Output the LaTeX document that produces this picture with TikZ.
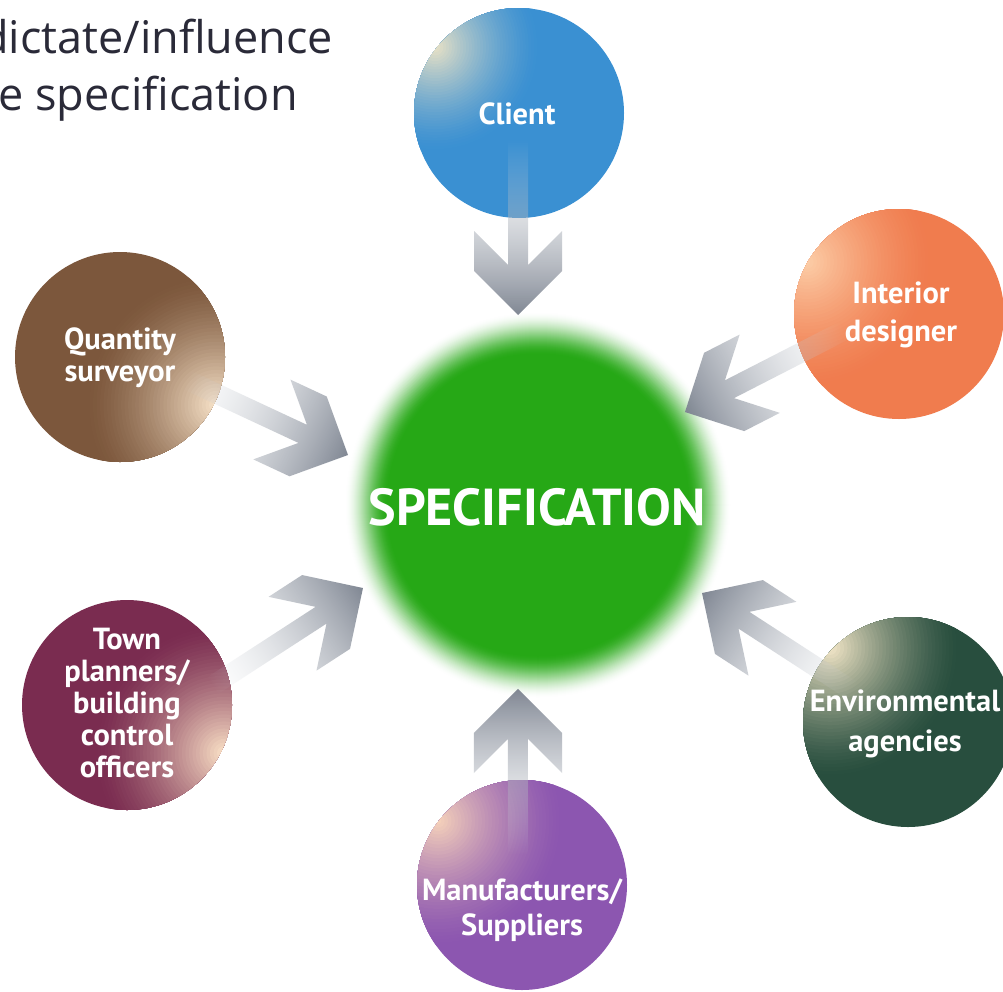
\documentclass[tikz,border=0pt]{standalone}
\usepackage{fontspec}
\usetikzlibrary{calc,fadings}
\newfontfamily\labelfont{PT Sans}
\newfontfamily\titlefont{Open Sans}

\definecolor{inktitle}{RGB}{42,42,56}
\definecolor{specgreen}{RGB}{38,168,22}
\definecolor{clientblue}{RGB}{58,144,210}
\definecolor{clientglow}{RGB}{230,224,198}
\definecolor{interiororange}{RGB}{240,124,78}
\definecolor{interiorglow}{RGB}{252,204,166}
\definecolor{qsbrown}{RGB}{124,87,60}
\definecolor{qsglow}{RGB}{245,224,198}
\definecolor{townmaroon}{RGB}{122,44,80}
\definecolor{townglow}{RGB}{248,222,196}
\definecolor{envgreen}{RGB}{40,78,62}
\definecolor{envglow}{RGB}{240,228,198}
\definecolor{makerpurple}{RGB}{140,86,176}
\definecolor{makerglow}{RGB}{244,208,186}
\definecolor{arrowlight}{RGB}{214,218,224}
\definecolor{arrowdark}{RGB}{128,135,147}

% arrows fade out towards their tail
\tikzfading[name=tailfade, left color=transparent!100, middle color=transparent!45, right color=transparent!0]

% chevron arrow from a tail coordinate to a tip coordinate
\newcommand\chevarrow[2]{%
  \pgfpointdiff{\pgfpointanchor{#1}{center}}{\pgfpointanchor{#2}{center}}%
  \pgfgetlastxy{\chevdx}{\chevdy}%
  \pgfmathsetmacro\chevang{atan2(\chevdy,\chevdx)}%
  \pgfmathsetmacro\chevlen{veclen(\chevdx,\chevdy)}%
  \begin{scope}[transform canvas={shift={(#2)},rotate=\chevang}]
    \shade[chevron] (0,0) -- (-44,44) -- (-84,44) -- (-50,10) -- (-\chevlen,10)
      -- (-\chevlen,-10) -- (-50,-10) -- (-84,-44) -- (-44,-44) -- cycle;
  \end{scope}}

% soft light wash inside a disc: offset x, offset y, radius, light colour, base colour
\newcommand\glowspot[5]{%
  \foreach \g in {0,...,36} {%
    \pgfmathsetmacro\gr{#3*(1-\g/37)}%
    \pgfmathsetmacro\gp{100*(\g/36)^1.4}%
    \fill[#4!\gp!#5] ($(path picture bounding box.center)+(#1pt,#2pt)$) circle (\gr pt);
  }}

\begin{document}
\begin{tikzpicture}[x=1pt,y=1pt,
  party/.style={circle, minimum size=210pt, inner sep=0pt},
  chevron/.style={left color=arrowlight, right color=arrowdark, path fading=tailfade},
  labeltext/.style={text=white, align=center, inner sep=0pt,
    font={\labelfont\bfseries\fontsize{30.5pt}{#1}\selectfont}},
  labeltext/.default=33pt,
  spectext/.style={text=white, inner sep=0pt,
    font={\labelfont\bfseries\fontsize{52pt}{60pt}\selectfont}},
  titletext/.style={text=inktitle, inner sep=0pt, anchor=base east,
    font={\titlefont\fontsize{45pt}{56pt}\selectfont}}]

\useasboundingbox (0,0) rectangle (1003,-991);
\clip (0,0) rectangle (1003,-991);
\fill[white] (0,0) rectangle (1003,-991);

% soft-edged central disc
\coordinate (spec) at (538,-505);
\foreach \i in {0,...,44} {
  \pgfmathsetmacro\rr{194-\i}
  \pgfmathsetmacro\tt{\i/44}
  \pgfmathsetmacro\pp{100*(3*\tt*\tt-2*\tt*\tt*\tt)}
  \fill[specgreen!\pp!white] (spec) circle (\rr pt);
}

% stakeholder discs
\node[party, fill=clientblue,
  path picture={\glowspot{-84}{66}{105}{clientglow}{clientblue}}] (client) at (519,-113) {};
\node[party, fill=interiororange,
  path picture={\glowspot{-92}{52}{125}{interiorglow}{interiororange}}] (interior) at (899,-314) {};
\node[party, fill=qsbrown,
  path picture={\glowspot{96}{-48}{130}{qsglow}{qsbrown}}] (qs) at (120,-357) {};
\node[party, fill=townmaroon,
  path picture={\glowspot{97}{-48}{130}{townglow}{townmaroon}}] (town) at (127,-705) {};
\node[party, fill=envgreen,
  path picture={\glowspot{-78}{74}{130}{envglow}{envgreen}}] (env) at (908,-722) {};
\node[party, fill=makerpurple,
  path picture={\glowspot{-84}{64}{125}{makerglow}{makerpurple}}] (maker) at (522,-885) {};

% arrow ends
\coordinate (clientTail) at ($(client)+(-1,-27)$);
\coordinate (clientTip) at ($(spec)+(-20,190)$);
\coordinate (makerTail) at ($(maker)+(-4,30)$);
\coordinate (makerTip) at ($(spec)+(-20,-184)$);
\coordinate (qsTail) at ($(qs)+(65,-22)$);
\coordinate (qsTip) at ($(spec)+(-190,50)$);
\coordinate (interiorTail) at ($(interior)+(-54,-16)$);
\coordinate (interiorTip) at ($(spec)+(147,93)$);
\coordinate (townTail) at ($(town)+(85,19)$);
\coordinate (townTip) at ($(spec)+(-175,-83)$);
\coordinate (envTail) at ($(env)+(-55,31)$);
\coordinate (envTip) at ($(spec)+(164,-88)$);

\chevarrow{clientTail}{clientTip}
\chevarrow{makerTail}{makerTip}
\chevarrow{qsTail}{qsTip}
\chevarrow{interiorTail}{interiorTip}
\chevarrow{townTail}{townTip}
\chevarrow{envTail}{envTip}

% labels
\node[spectext] (specLabel) at (537,-507) {SPECIFICATION};
\node[labeltext] (clientLabel) at (517,-114) {Client};
\node[labeltext=38pt] (interiorLabel) at (901,-315) {Interior\\designer};
\node[labeltext=32pt] (qsLabel) at (120,-358) {Quantity\\surveyor};
\node[labeltext=32pt] (townLabel) at (127,-703) {Town\\planners/\\building\\control\\officers};
\node[labeltext=40pt] (envLabel) at (905,-724) {Environmental\\agencies};
\node[labeltext=35pt] (makerLabel) at (522,-910) {Manufacturers/\\Suppliers};

\node[titletext] (titleA) at (333,-53) {dictate/influence};
\node[titletext] (titleB) at (298,-110) {e specification};
\end{tikzpicture}
\end{document}
